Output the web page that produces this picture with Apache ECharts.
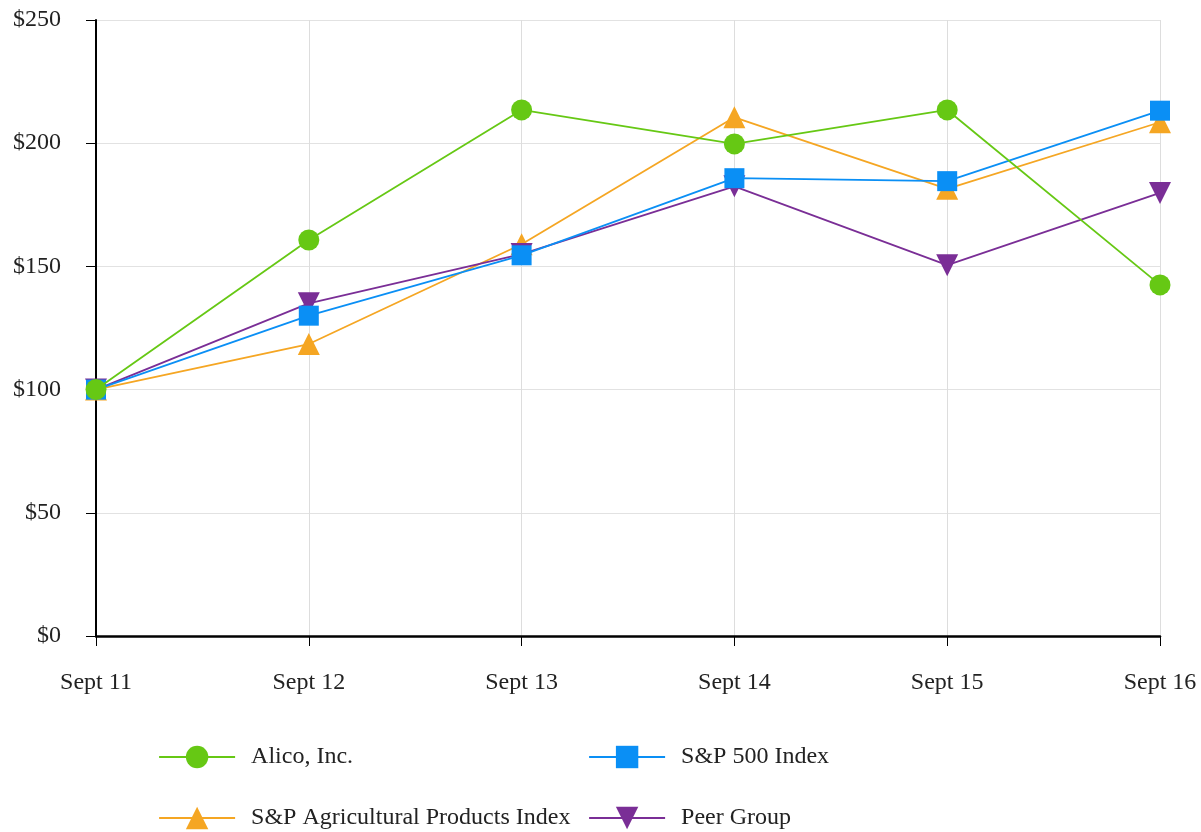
<!DOCTYPE html>
<html>
<head>
<meta charset="utf-8">
<script src="https://cdn.jsdelivr.net/npm/echarts@6/dist/echarts.min.js"></script>
<style>
html,body{margin:0;padding:0;background:#fff;}
#chart{width:1201px;height:832px;}
</style>
</head>
<body>
<div id="chart"></div>
<script>
var categories = ['Sept 11', 'Sept 12', 'Sept 13', 'Sept 14', 'Sept 15', 'Sept 16'];
var alico = [100, 160.7, 213.5, 199.7, 213.5, 142.5];
var sp500 = [100, 130, 154.5, 185.8, 184.6, 213.2];
var spAg = [100, 118.5, 159, 210.5, 181.5, 208.5];
var peer = [100, 135, 155, 182.5, 150.5, 179.8];
var names = ['Alico, Inc.', 'S&P 500 Index', 'S&P Agricultural Products Index', 'Peer Group'];
var yTicks = [0, 50, 100, 150, 200, 250];

var font = '"Liberation Serif", "Times New Roman", serif';
var colors = ['#66c814', '#0a8ff5', '#f5a623', '#7a2e96'];

function mkLegend(name, left, top) {
  return {
    data: [name], left: left, top: top, orient: 'horizontal',
    itemWidth: 76, itemHeight: 28, itemGap: 0, padding: 0,
    lineStyle: { width: 2.2 },
    textStyle: { fontFamily: font, fontSize: 24, color: '#222', padding: [0, 0, 0, 11] }
  };
}

var chart = echarts.init(document.getElementById('chart'), null, { renderer: 'canvas' });
chart.setOption({
  animation: false,
  backgroundColor: '#fff',
  grid: { left: 96, right: 41, top: 20, bottom: 196, containLabel: false },
  legend: [
    mkLegend(names[0], 158, 745),
    mkLegend(names[1], 588, 745),
    mkLegend(names[2], 158, 806),
    mkLegend(names[3], 588, 806)
  ],
  xAxis: {
    type: 'category', data: categories, boundaryGap: false,
    axisLine: { show: true, lineStyle: { color: '#000', width: 2.5 } },
    axisTick: { show: true, length: 10, lineStyle: { color: '#000', width: 1 } },
    axisLabel: { fontFamily: font, fontSize: 24, color: '#222', margin: 35 },
    splitLine: { show: true, lineStyle: { color: '#dddddd', width: 1 } }
  },
  yAxis: {
    type: 'value', min: 0, max: 250, interval: 50,
    axisLine: { show: true, lineStyle: { color: '#000', width: 2 } },
    axisTick: { show: true, length: 10, lineStyle: { color: '#000', width: 1 } },
    axisLabel: { fontFamily: font, fontSize: 24, color: '#222', margin: 35, formatter: function (v) { return '$' + v; } },
    splitLine: { show: true, lineStyle: { color: '#e2e2e2', width: 1 } }
  },
  series: [
    { name: names[0], type: 'line', data: alico, symbol: 'circle', symbolSize: 21, z: 5,
      itemStyle: { color: colors[0] }, lineStyle: { color: colors[0], width: 1.8 } },
    { name: names[1], type: 'line', data: sp500, symbol: 'rect', symbolSize: 20, z: 4,
      itemStyle: { color: colors[1] }, lineStyle: { color: colors[1], width: 1.8 } },
    { name: names[2], type: 'line', data: spAg, symbol: 'triangle', symbolSize: 22, z: 3,
      itemStyle: { color: colors[2] }, lineStyle: { color: colors[2], width: 1.8 } },
    { name: names[3], type: 'line', data: peer, symbol: 'triangle', symbolRotate: 180, symbolSize: 22, z: 3,
      itemStyle: { color: colors[3] }, lineStyle: { color: colors[3], width: 1.8 } }
  ]
});
</script>
</body>
</html>
